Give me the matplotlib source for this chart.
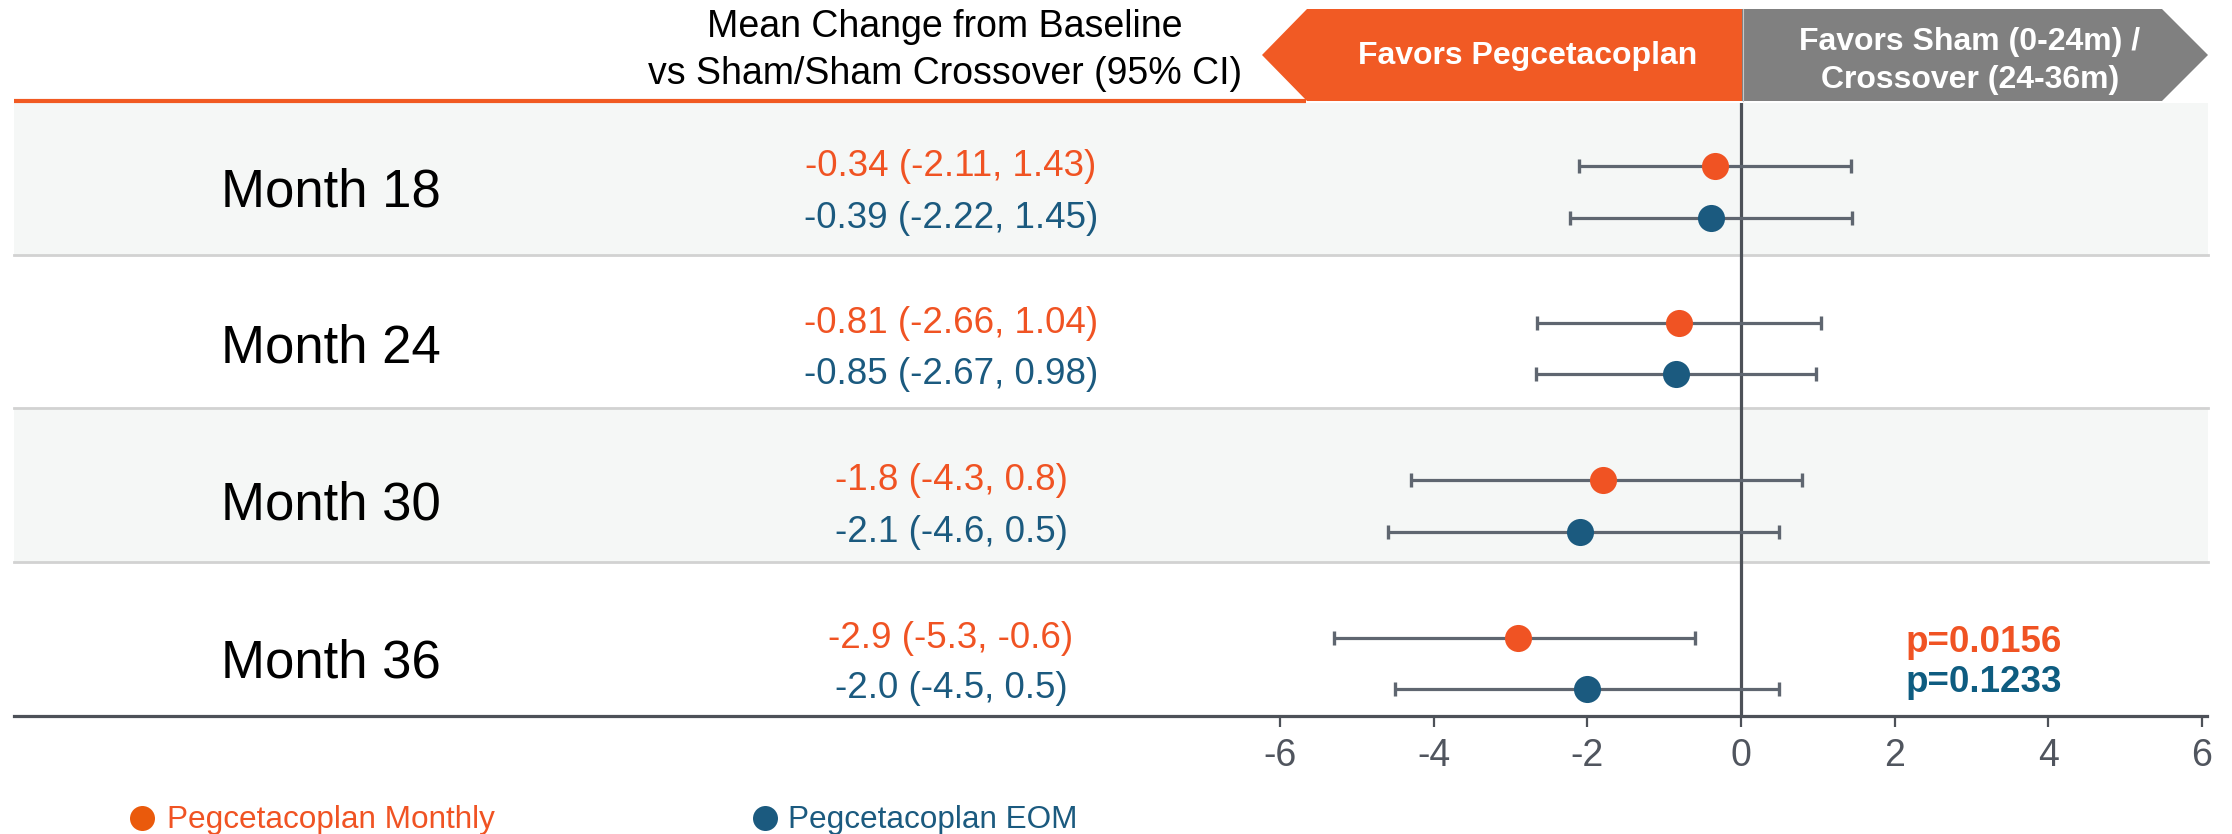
import matplotlib
matplotlib.use("Agg")
import matplotlib.pyplot as plt
from matplotlib.patches import Polygon, Rectangle

plt.rcParams['font.family'] = ['Liberation Sans', 'DejaVu Sans']

# ---------------- data ----------------
months = ["Month 18", "Month 24", "Month 30", "Month 36"]
monthly_mean = [-0.34, -0.81, -1.8, -2.9]
monthly_lo = [-2.11, -2.66, -4.3, -5.3]
monthly_hi = [1.43, 1.04, 0.8, -0.6]
eom_mean = [-0.39, -0.85, -2.1, -2.0]
eom_lo = [-2.22, -2.67, -4.6, -4.5]
eom_hi = [1.45, 0.98, 0.5, 0.5]
decimals = [2, 2, 1, 1]
p_values = ["p=0.0156", "p=0.1233"]
xticks = [-6, -4, -2, 0, 2, 4, 6]
series_names = ["Pegcetacoplan Monthly", "Pegcetacoplan EOM"]

# ---------------- style ----------------
ORANGE = "#F05323"
BLUE = "#1B5A7F"
PBLUE = "#0E5C80"
GRAY_LINE = "#5F6670"
AXIS = "#4D5158"
BAND = "#F5F7F6"
SEP = "#D2D2D2"

W, H = 2232, 834
U = 76.83          # pixels per data unit
X0 = 1741          # pixel of x = 0

fig = plt.figure(figsize=(W / 100, H / 100), dpi=100)

# overlay axes in pixel coordinates (for layout elements)
ov = fig.add_axes([0, 0, 1, 1])
ov.set_xlim(0, W)
ov.set_ylim(H, 0)
ov.axis('off')

# forest-plot axes
ax_l, ax_r, ax_t, ax_b = 14, 2207, 103, 716
ax = fig.add_axes([ax_l / W, (H - ax_b) / H, (ax_r - ax_l) / W, (ax_b - ax_t) / H])
ax.set_xlim((ax_l - X0) / U, (ax_r - X0) / U)
ax.set_ylim(ax_b, ax_t)
ax.patch.set_alpha(0)
for s in ['top', 'left', 'right']:
    ax.spines[s].set_visible(False)
ax.spines['bottom'].set_color(AXIS)
ax.spines['bottom'].set_linewidth(2.3)
ax.set_yticks([])
ax.set_xticks(xticks)
ax.set_xticklabels([str(t) for t in xticks])
ax.tick_params(axis='x', direction='out', length=8, width=1.6, color=AXIS,
               labelsize=27, labelcolor="#50555E", pad=8)

# bands (layout)
band_edges = [103, 255, 408, 562, 716]
for i in range(4):
    if i % 2 == 0:
        ov.add_patch(Rectangle((14, band_edges[i]), 2208 - 14, band_edges[i + 1] - band_edges[i],
                               facecolor=BAND, edgecolor='none', zorder=0))
    if i > 0:
        ov.plot([14, 2208], [band_edges[i], band_edges[i]], color=SEP, lw=2.0, zorder=1)

# header underline
ov.plot([14, 1306], [101, 101], color="#F15A22", lw=3.0, solid_capstyle='butt', zorder=2)

# banners
ov.add_patch(Polygon([(1262, 55), (1307, 9), (1742, 9), (1742, 101), (1307, 101)],
                     closed=True, facecolor="#F15A24", edgecolor='none', zorder=3))
ov.add_patch(Polygon([(1742, 9), (2162, 9), (2208, 55), (2162, 101), (1742, 101)],
                     closed=True, facecolor="#808080", edgecolor='none', zorder=3))
ov.plot([1742.5, 1742.5], [9, 101], color="#C8C8C8", lw=0.8, zorder=4)
ov.text(1528, 56, "Favors Pegcetacoplan", color='white', fontsize=23, fontweight='bold',
        ha='center', va='center', zorder=5)
ov.text(1970, 42, "Favors Sham (0-24m) /", color='white', fontsize=23, fontweight='bold',
        ha='center', va='center', zorder=5)
ov.text(1970, 80, "Crossover (24-36m)", color='white', fontsize=23, fontweight='bold',
        ha='center', va='center', zorder=5)

# header text
ov.text(945, 27, "Mean Change from Baseline", fontsize=27, ha='center', va='center', color='black')
ov.text(945, 74, "vs Sham/Sham Crossover (95% CI)", fontsize=27, ha='center', va='center', color='black')

# rows (layout positions in pixels)
y_monthly = [166, 323, 480, 638]
y_eom = [218, 374, 532, 689]

# zero line
ax.axvline(0, color=AXIS, lw=2.3, zorder=2)

for i, m in enumerate(months):
    yc = (y_monthly[i] + y_eom[i]) / 2
    ov.text(221, yc, m, fontsize=38, ha='left', va='center', color='black')
    d = decimals[i]
    lab1 = f"{monthly_mean[i]:.{d}f} ({monthly_lo[i]:.{d}f}, {monthly_hi[i]:.{d}f})"
    lab2 = f"{eom_mean[i]:.{d}f} ({eom_lo[i]:.{d}f}, {eom_hi[i]:.{d}f})"
    ov.text(951, y_monthly[i], lab1, fontsize=26.5, ha='center', va='center', color=ORANGE)
    ov.text(951, y_eom[i], lab2, fontsize=26.5, ha='center', va='center', color=BLUE)

# error bars + points
for mean, lo, hi, ys, col in [(monthly_mean, monthly_lo, monthly_hi, y_monthly, ORANGE),
                              (eom_mean, eom_lo, eom_hi, y_eom, BLUE)]:
    xerr = [[mv - l for mv, l in zip(mean, lo)], [h - mv for mv, h in zip(mean, hi)]]
    ax.errorbar(mean, ys, xerr=xerr, fmt='none', ecolor=GRAY_LINE, elinewidth=2.3,
                capsize=5.0, capthick=2.4, zorder=3)
    ax.plot(mean, ys, 'o', color=col, markersize=19.5, markeredgewidth=0,
            linestyle='none', zorder=4)

# p-values
ov.text(1906, 642, p_values[0], fontsize=26.5, fontweight='bold', color=ORANGE,
        ha='left', va='center')
ov.text(1906, 682, p_values[1], fontsize=26.5, fontweight='bold', color=PBLUE,
        ha='left', va='center')

# legend
ov.plot([142], [818], 'o', color="#EA5A0C", markersize=18, markeredgewidth=0, clip_on=False)
ov.text(167, 820, series_names[0], fontsize=22.7, color=ORANGE, ha='left', va='center')
ov.plot([765], [818], 'o', color=BLUE, markersize=18, markeredgewidth=0, clip_on=False)
ov.text(788, 820, series_names[1], fontsize=22.7, color=BLUE, ha='left', va='center')

fig.savefig("out.png", dpi=100)
